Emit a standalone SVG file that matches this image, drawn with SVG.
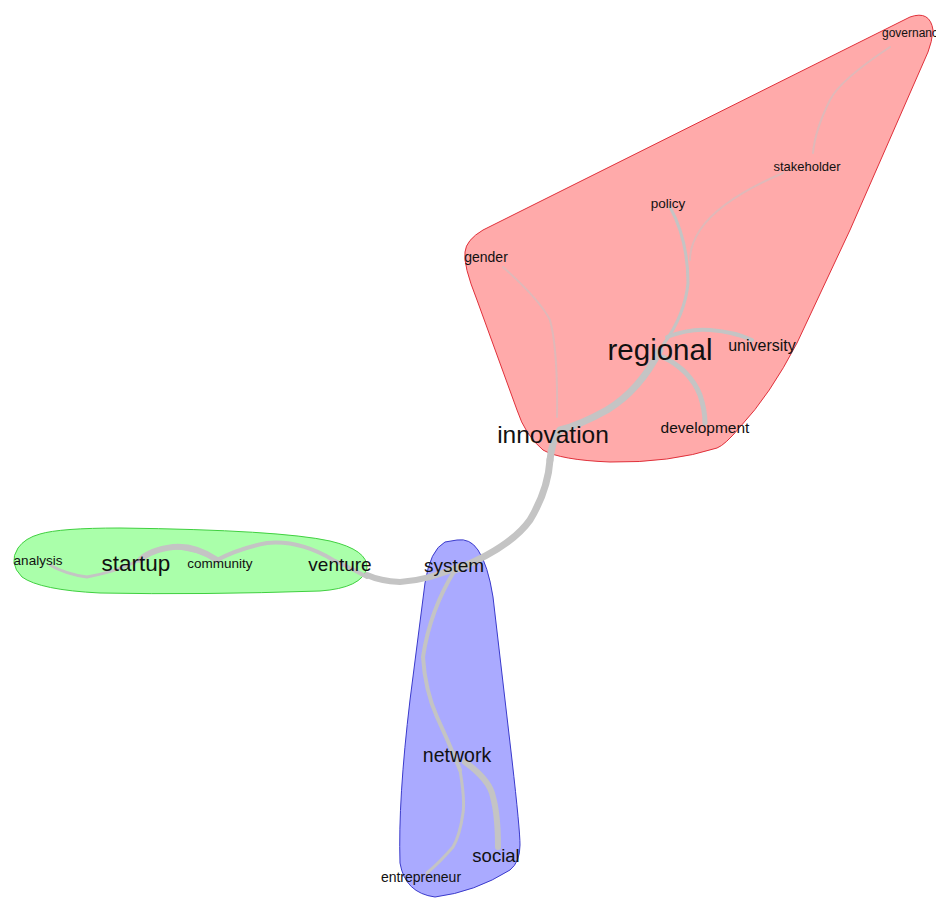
<svg xmlns="http://www.w3.org/2000/svg" width="936" height="898" viewBox="0 0 936 898">
<style>
text{font-family:"Liberation Sans",Arial,sans-serif;fill:#111;text-anchor:middle;dominant-baseline:central}
.e{fill:none;stroke:#c4c4c4;stroke-linecap:round}
.f{stroke-opacity:0.55}
.hr{fill:#ffaaaa;stroke:#e0303a;stroke-width:1}
.hg{fill:#aaffaa;stroke:#40d040;stroke-width:1}
.hb{fill:#aaaaff;stroke:#3a3acc;stroke-width:1}
</style>
<rect width="936" height="898" fill="#fff"/>
<g id="hulls">
<path class="hr" d="M483,230 L910,17 Q930,10 933,30 Q932,42 928,52 L850,230 L797,343 Q770,395 740,427 Q725,445 717,448 Q670,463 610,462 Q560,460 543,450 Q525,435 517,410 L477,300 Q463,265 465,252 Q466,240 483,230 Z"/>
<path class="hg" d="M40,534 Q60,528 120,528 Q280,530 330,541 Q368,550 367,568 Q362,588 320,591 Q200,595 100,593 Q40,590 22,577 Q8,563 18,548 Q25,538 40,534 Z"/>
<path class="hb" d="M457,540 Q470,538 478,550 Q488,565 493,597 L512,760 Q520,830 520,845 Q520,862 510,870 Q475,892 435,897 Q405,893 400,863 Q398,800 410,700 L425,583 Q430,550 445,542 Z"/>
</g>
<g id="connectors">
<path class="e f" stroke-width="2" d="M890,47 Q840,80 830,100 Q815,130 813,153"/>
<path class="e f" stroke-width="2" d="M783,173 Q720,200 700,230 Q690,245 690,260"/>
<path class="e" stroke-width="3" d="M670,207 Q688,240 688,283 Q685,315 663,345"/>
<path class="e" stroke-width="4" d="M667,337 Q690,328 710,330 Q735,332 752,340"/>
<path class="e" stroke-width="5" d="M663,357 Q690,370 700,395 Q705,410 705,423"/>
<path class="e f" stroke-width="2" d="M503,267 Q540,300 550,320 Q558,350 557,417"/>
<path class="e" stroke-width="7" d="M660,350 Q640,390 607,410 Q580,425 560,430 Q552,440 550,460"/>
<path class="e" stroke-width="7" d="M550,460 Q548,490 530,520 Q510,548 455,570"/>
<path class="e" stroke-width="6" d="M460,566 Q430,580 400,582 Q380,581 367,575"/>
<path class="e" stroke-width="4" d="M367,577 Q345,565 333,560 Q300,540 267,543 Q240,548 217,560 Q195,548 173,547"/>
<path class="e" stroke-width="6" d="M217,560 Q195,545 173,547 Q150,550 140,560"/>
<path class="e" stroke-width="3" d="M140,560 Q115,572 87,577 Q65,574 50,565"/>
<path class="e" stroke-width="4" d="M455,570 Q430,610 423,657 Q425,690 437,717 Q450,745 460,770"/>
<path class="e" stroke-width="3" d="M460,770 Q465,800 463,813 Q460,835 453,847 Q440,862 427,873"/>
<path class="e" stroke-width="6" d="M465,762 Q490,780 493,797 Q498,815 498,847"/>
</g>
<g id="governance"><text x="882" y="33" font-size="12" style="text-anchor:start">governance</text></g>
<g id="stakeholder"><text x="807" y="166" font-size="13">stakeholder</text></g>
<g id="policy"><text x="668" y="203" font-size="13.5">policy</text></g>
<g id="gender"><text x="486" y="257" font-size="14">gender</text></g>
<g id="regional"><text x="660" y="349" font-size="29.5">regional</text></g>
<g id="university"><text x="762" y="345" font-size="16">university</text></g>
<g id="development"><text x="705" y="427" font-size="15.5">development</text></g>
<g id="innovation"><text x="553" y="434" font-size="24.5">innovation</text></g>
<g id="analysis"><text x="38" y="560" font-size="13.5">analysis</text></g>
<g id="startup"><text x="136" y="563" font-size="22.5">startup</text></g>
<g id="community"><text x="220" y="563" font-size="13.5">community</text></g>
<g id="venture"><text x="340" y="564" font-size="19">venture</text></g>
<g id="system"><text x="454" y="565" font-size="19">system</text></g>
<g id="network"><text x="457" y="755" font-size="19.5">network</text></g>
<g id="social"><text x="496" y="855" font-size="18.5">social</text></g>
<g id="entrepreneur"><text x="421" y="877" font-size="14">entrepreneur</text></g>
</svg>
